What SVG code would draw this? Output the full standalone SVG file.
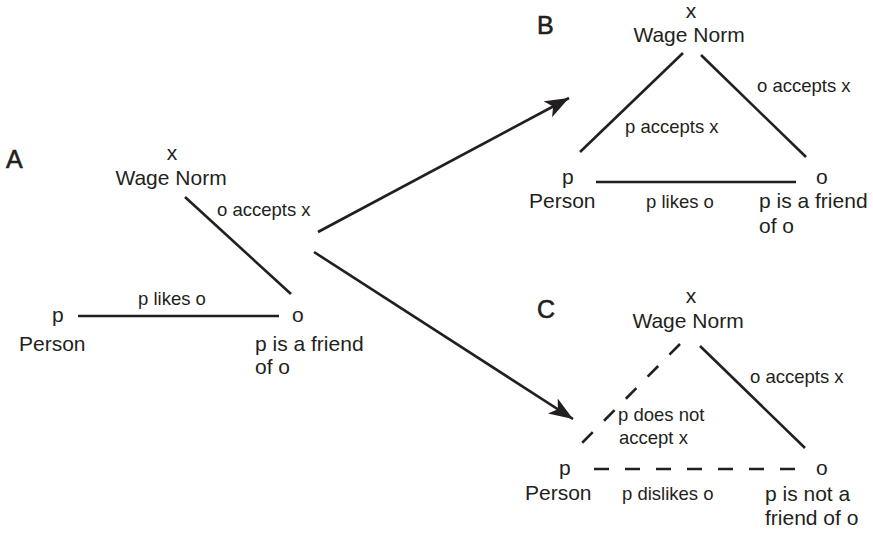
<svg xmlns="http://www.w3.org/2000/svg" width="873" height="533" viewBox="0 0 873 533">
<style>
text{font-family:"Liberation Sans",Arial,sans-serif;fill:#231f20}
.n{font-size:21px}
.l{font-size:18.5px}
.h{font-size:25px;stroke:#231f20;stroke-width:0.6}
.m{text-anchor:middle}
.ln{stroke:#231f20;stroke-width:2.6;fill:none}
.d{stroke-dasharray:15 16}
</style>
<defs>
<marker id="ah" markerUnits="userSpaceOnUse" markerWidth="26" markerHeight="20" refX="24" refY="9" orient="auto">
<path d="M0,0 L24,9 L0,18 L6,9 Z" fill="#231f20"/>
</marker>
</defs>
<g id="panelA">
<text class="h" x="6" y="168">A</text>
<g id="A-x"><text class="n m" x="172" y="160">x</text><text class="n m" x="171" y="185">Wage Norm</text></g>
<g id="A-p"><text class="n" x="52" y="322">p</text><text class="n" x="19" y="351">Person</text></g>
<g id="A-o"><text class="n" x="292" y="322">o</text><text class="n" x="255" y="351">p is a friend</text><text class="n" x="255" y="374">of o</text></g>
</g>
<g id="panelB">
<text class="h" x="537" y="34">B</text>
<g id="B-x"><text class="n m" x="691" y="18">x</text><text class="n m" x="689" y="42">Wage Norm</text></g>
<g id="B-p"><text class="n" x="562" y="184">p</text><text class="n" x="529" y="208">Person</text></g>
<g id="B-o"><text class="n" x="816" y="184">o</text><text class="n" x="759" y="208">p is a friend</text><text class="n" x="759" y="233">of o</text></g>
</g>
<g id="panelC">
<text class="h" x="537" y="318">C</text>
<g id="C-x"><text class="n m" x="691" y="303">x</text><text class="n m" x="688" y="328">Wage Norm</text></g>
<g id="C-p"><text class="n" x="559" y="475">p</text><text class="n" x="525" y="500">Person</text></g>
<g id="C-o"><text class="n" x="816" y="475">o</text><text class="n" x="765" y="501">p is not a</text><text class="n" x="765" y="525">friend of o</text></g>
</g>
<g id="connectors">
<line class="ln" x1="185" y1="197" x2="291" y2="294"/>
<line class="ln" x1="78" y1="316" x2="279" y2="316"/>
<line class="ln" x1="683" y1="53" x2="580" y2="152"/>
<line class="ln" x1="701" y1="55" x2="806" y2="157"/>
<line class="ln" x1="596" y1="182" x2="796" y2="182"/>
<line class="ln d" x1="680" y1="344" x2="582" y2="443"/>
<line class="ln" x1="700" y1="346" x2="805" y2="448"/>
<line class="ln d" x1="594" y1="469" x2="795" y2="469"/>
<line class="ln" x1="318" y1="232" x2="569" y2="98" marker-end="url(#ah)"/>
<line class="ln" x1="314" y1="252" x2="573" y2="419" marker-end="url(#ah)"/>
</g>
<g id="labels">
<text class="l" x="217" y="216">o accepts x</text>
<text class="l" x="138" y="305">p likes o</text>
<text class="l" x="625" y="133">p accepts x</text>
<text class="l" x="757" y="92">o accepts x</text>
<text class="l" x="646" y="208">p likes o</text>
<text class="l" x="750" y="383">o accepts x</text>
<text class="l" x="618" y="421">p does not</text>
<text class="l" x="619" y="444">accept x</text>
<text class="l" x="622" y="500">p dislikes o</text>
</g>
</svg>
